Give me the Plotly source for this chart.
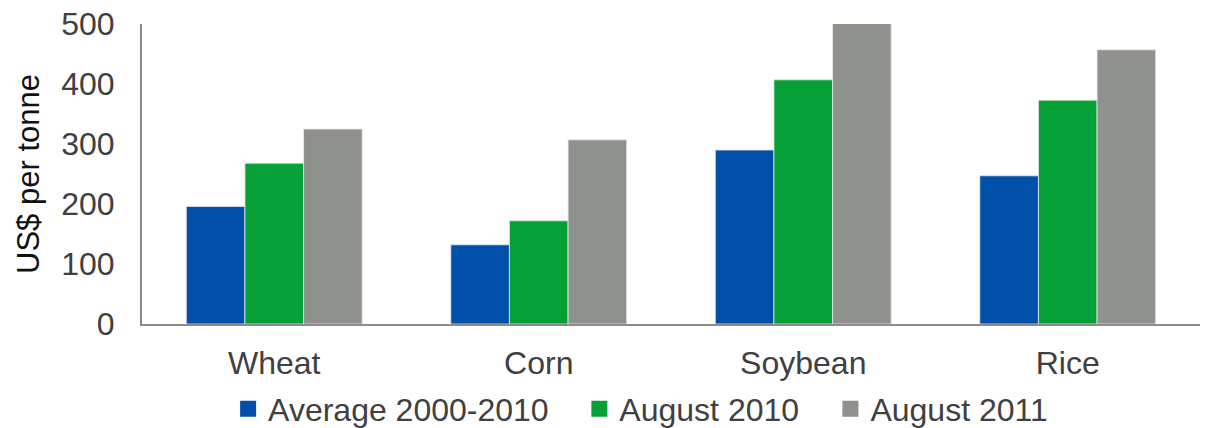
import plotly.graph_objects as go

crops = ["Wheat", "Corn", "Soybean", "Rice"]
avg_2000_2010 = [196, 132, 290, 247]
aug_2010 = [268, 172, 407, 373]
aug_2011 = [325, 307, 502, 457]
y_ticks = [0, 100, 200, 300, 400, 500]

font = "Liberation Sans, Arial, sans-serif"
text_col = "#404040"

series = [
    ("Average 2000-2010", avg_2000_2010, "#0050AA"),
    ("August 2010", aug_2010, "#05A036"),
    ("August 2011", aug_2011, "#8F918C"),
]
legend_ids = ["legend", "legend2", "legend3"]
legend_x = [0.1890, 0.4800, 0.6880]

fig = go.Figure()
for (name, vals, col), lg in zip(series, legend_ids):
    fig.add_trace(go.Bar(
        x=crops, y=vals, name=name, showlegend=False,
        marker=dict(color=col, line=dict(color="#e8e8e8", width=0.8)),
    ))
    # legend-only entry with a bigger square swatch
    fig.add_trace(go.Scatter(
        x=[None], y=[None], name=name, mode="markers", legend=lg,
        marker=dict(symbol="square", size=16, color=col),
    ))

leg_common = dict(orientation="h", xref="container", xanchor="left",
                  yref="container", y=0.0444, yanchor="middle",
                  bgcolor="rgba(0,0,0,0)", itemwidth=30,
                  font=dict(size=32, color=text_col))

fig.update_layout(
    width=1207, height=428,
    margin=dict(l=142, r=7, t=24, b=104, autoexpand=False),
    barmode="group", bargap=0.335, bargroupgap=0,
    plot_bgcolor="white", paper_bgcolor="white",
    font=dict(family=font, size=32, color=text_col),
    showlegend=True,
    legend=dict(x=legend_x[0], **leg_common),
    legend2=dict(x=legend_x[1], **leg_common),
    legend3=dict(x=legend_x[2], **leg_common),
    xaxis=dict(showline=True, linecolor="#8c8c8c", linewidth=2, ticks="",
               showgrid=False, ticklabelstandoff=10, automargin=False),
    yaxis=dict(range=[0, 500], tickvals=y_ticks, showline=True, linecolor="#8c8c8c",
               linewidth=2, showgrid=False, zeroline=False, ticks="",
               ticklabelstandoff=19, automargin=False, ticklabeloverflow="allow",
               title=dict(text="US$ per tonne", font=dict(size=31, color="#111111"),
                          standoff=12)),
)

# drop the default 8px body margin so the figure fills the window exactly
fig.write_html("out.html", config={"displayModeBar": False},
               post_script="document.body.style.margin='0';")
